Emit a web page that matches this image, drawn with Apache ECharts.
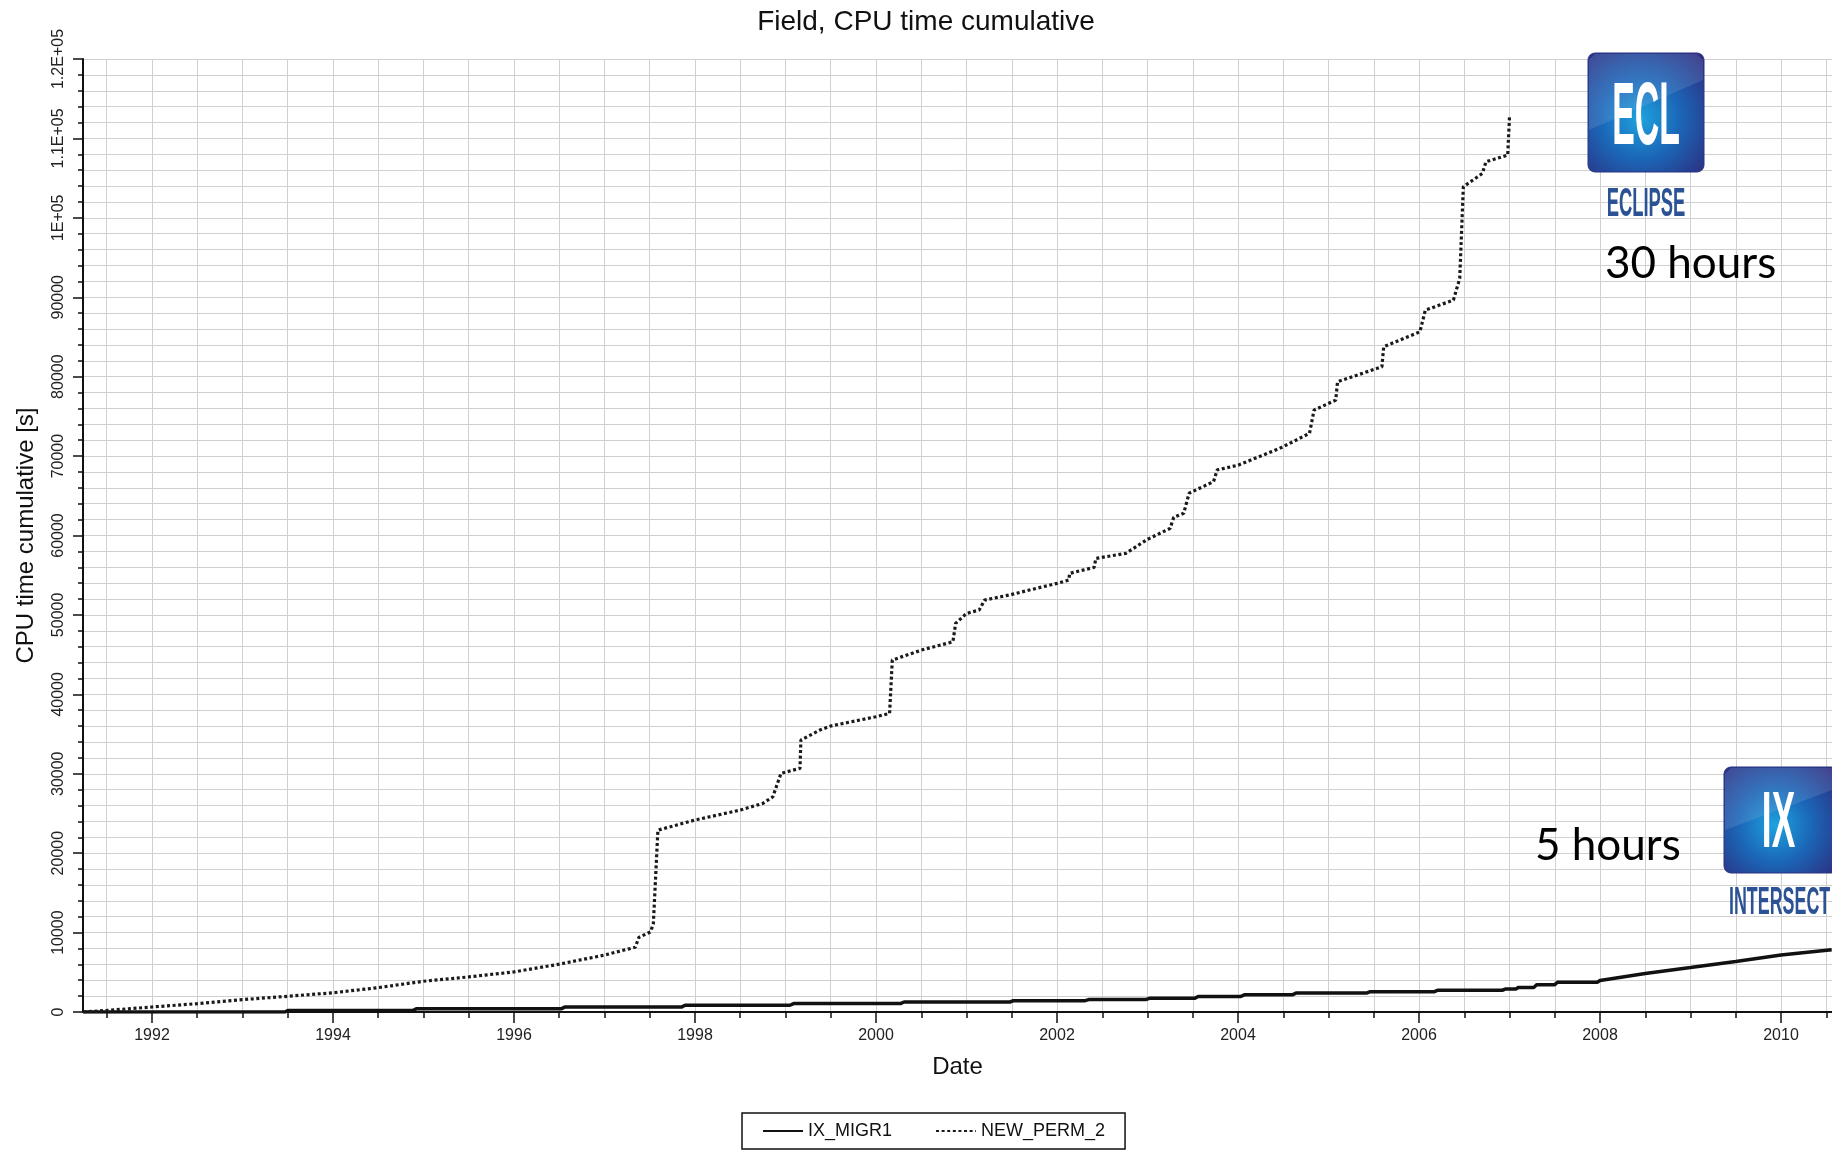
<!DOCTYPE html>
<html><head><meta charset="utf-8">
<script src="https://cdn.jsdelivr.net/npm/echarts@6/dist/echarts.min.js"></script>
<style>html,body{margin:0;padding:0;background:#fff}#c{width:1832px;height:1152px}</style>
</head><body><div id="c"></div>
<script>
// ---- data (decimal years, seconds) ----
const ixYears = [1991.24, 1993.47, 1993.5, 1994.88, 1994.92, 1996.52, 1996.56, 1997.85, 1997.89, 1999.05, 1999.09, 2000.27, 2000.31, 2001.48, 2001.52, 2002.31, 2002.35, 2002.98, 2003.02, 2003.52, 2003.56, 2004.03, 2004.07, 2004.6, 2004.64, 2005.42, 2005.46, 2006.17, 2006.21, 2006.92, 2006.96, 2007.07, 2007.1, 2007.27, 2007.3, 2007.5, 2007.53, 2007.97, 2008.0, 2008.5, 2009.0, 2009.5, 2010.0, 2010.56];
const ixValues = [0, 0, 180, 180, 400, 400, 620, 620, 850, 850, 1060, 1060, 1260, 1260, 1430, 1430, 1560, 1560, 1720, 1720, 1950, 1950, 2160, 2160, 2380, 2380, 2560, 2560, 2740, 2740, 2900, 2900, 3100, 3100, 3440, 3440, 3740, 3740, 3960, 4860, 5590, 6370, 7180, 7830];

const permYears = [1991.24, 1991.5, 1992.0, 1992.5, 1993.0, 1993.5, 1994.0, 1994.5, 1995.0, 1995.5, 1996.0, 1996.5, 1997.0, 1997.34, 1997.38, 1997.51, 1997.54, 1997.59, 1998.0, 1998.5, 1998.75, 1998.86, 1998.95, 1999.16, 1999.17, 1999.38, 1999.5, 2000.0, 2000.15, 2000.18, 2000.5, 2000.85, 2000.88, 2001.0, 2001.14, 2001.2, 2001.5, 2001.77, 2002.0, 2002.13, 2002.14, 2002.41, 2002.43, 2002.76, 2003.0, 2003.25, 2003.29, 2003.4, 2003.46, 2003.73, 2003.77, 2004.0, 2004.46, 2004.79, 2004.84, 2005.08, 2005.1, 2005.59, 2005.61, 2006.01, 2006.07, 2006.38, 2006.45, 2006.49, 2006.7, 2006.74, 2006.98, 2007.0];
const permValues = [0, 200, 630, 1050, 1560, 1980, 2420, 3070, 3870, 4420, 5050, 6020, 7170, 8150, 9400, 10100, 11160, 22900, 24170, 25430, 26270, 27100, 30050, 30680, 34240, 35500, 36010, 37180, 37600, 44310, 45570, 46620, 48940, 50190, 50610, 51870, 52580, 53340, 53970, 54390, 55230, 55990, 57120, 57750, 59520, 60900, 62290, 62800, 65320, 66790, 68260, 68850, 70970, 72860, 75790, 77050, 79360, 81250, 83770, 85650, 88380, 89640, 92370, 103910, 105590, 107060, 107900, 112720];

const xLabelYears = [1992, 1994, 1996, 1998, 2000, 2002, 2004, 2006, 2008, 2010];
const xTickYears = [1991.5, 1992, 1992.5, 1993, 1993.5, 1994, 1994.5, 1995, 1995.5, 1996, 1996.5, 1997, 1997.5, 1998, 1998.5, 1999, 1999.5, 2000, 2000.5, 2001, 2001.5, 2002, 2002.5, 2003, 2003.5, 2004, 2004.5, 2005, 2005.5, 2006, 2006.5, 2007, 2007.5, 2008, 2008.5, 2009, 2009.5, 2010, 2010.5];
const yBigLabels = {100000: '1E+05', 110000: '1.1E+05', 120000: '1.2E+05'};
const seriesNames = ['IX_MIGR1', 'NEW_PERM_2'];

const X_MIN = 1991.2376, X_MAX = 2010.5635;
const FONT = '"Liberation Sans", Arial, sans-serif';
const GRID = '#d0d0d0';
const INK = '#111';

const chart = echarts.init(document.getElementById('c'));

const logoFill = {
  type: 'radial', x: 0.45, y: 0.55, r: 0.75,
  colorStops: [
    {offset: 0, color: '#1ea3de'},
    {offset: 0.45, color: '#1b67b8'},
    {offset: 1, color: '#2e2a7c'}
  ]
};

chart.setOption({
  animation: false,
  backgroundColor: '#fff',
  title: {
    text: 'Field, CPU time cumulative',
    left: 921, top: 3, textAlign: 'center',
    textStyle: {fontFamily: FONT, fontSize: 28, fontWeight: 'normal', color: INK}
  },
  grid: {left: 83, right: 0, top: 59, bottom: 140, containLabel: false},
  legend: {
    left: 742, top: 1113,
    padding: [9, 20, 9, 20], itemGap: 43, itemWidth: 40, itemHeight: 14,
    borderColor: INK, borderWidth: 1.5,
    itemStyle: {opacity: 0, color: 'rgba(0,0,0,0)', borderWidth: 0},
    textStyle: {fontFamily: FONT, fontSize: 18, color: INK},
    data: seriesNames
  },
  xAxis: [{
    type: 'value', min: X_MIN, max: X_MAX,
    axisLine: {show: true, onZero: false, lineStyle: {color: INK, width: 2}},
    axisTick: {show: true, customValues: xTickYears, length: 6, lineStyle: {color: INK, width: 1.5}},
    axisLabel: {customValues: xLabelYears, formatter: v => String(Math.round(v)),
      fontFamily: FONT, fontSize: 16, color: '#222', margin: 16},
    splitLine: {show: true, lineStyle: {color: GRID, width: 1}},
    name: 'Date', nameLocation: 'middle', nameGap: 43,
    nameTextStyle: {fontFamily: FONT, fontSize: 24, color: INK}
  }, {
    type: 'value', min: X_MIN, max: X_MAX, position: 'bottom',
    axisLine: {show: false},
    axisTick: {show: true, customValues: xLabelYears, length: 11, lineStyle: {color: INK, width: 1.5}},
    axisLabel: {show: false},
    splitLine: {show: false}
  }],
  yAxis: {
    type: 'value', min: 0, max: 120000, interval: 10000,
    axisLine: {show: true, lineStyle: {color: INK, width: 2}},
    axisTick: {show: true, length: 10, lineStyle: {color: INK, width: 1.5}},
    minorTick: {show: true, splitNumber: 5, length: 5, lineStyle: {color: INK, width: 1.5}},
    splitLine: {show: true, lineStyle: {color: GRID, width: 1}},
    minorSplitLine: {show: true, lineStyle: {color: GRID, width: 1}},
    axisLabel: {rotate: 90, margin: 16, fontFamily: FONT, fontSize: 16, color: '#222',
      formatter: v => yBigLabels[v] || String(v)},
    name: 'CPU time cumulative [s]', nameLocation: 'middle', nameRotate: 90, nameGap: 45,
    nameTextStyle: {fontFamily: FONT, fontSize: 24, color: INK}
  },
  series: [{
    name: seriesNames[0], type: 'line', xAxisIndex: 0,
    data: ixYears.map((y, i) => [y, ixValues[i]]),
    symbol: 'none', showSymbol: false, z: 3,
    lineStyle: {color: INK, width: 3.5}, itemStyle: {color: INK}
  }, {
    name: seriesNames[1], type: 'line', xAxisIndex: 0,
    data: permYears.map((y, i) => [y, permValues[i]]),
    symbol: 'none', showSymbol: false, z: 3,
    lineStyle: {color: '#1a1a1a', width: 3.2, type: [3, 2.6]}, itemStyle: {color: '#1a1a1a'}
  }],
  graphic: [
    // ECLIPSE logo
    {type: 'rect', z: 100, shape: {x: 1588, y: 53, width: 116, height: 119, r: 7},
      style: {fill: logoFill, stroke: '#2b3580', lineWidth: 1}},
    {type: 'polygon', z: 101, shape: {points: [[1589, 60], [1595, 54], [1697, 54], [1703, 60], [1703, 80], [1589, 130]]},
      style: {fill: 'rgba(180,200,235,0.16)'}},
    {type: 'text', z: 102, x: 1646, y: 119, scaleX: 0.38,
      style: {text: 'ECL', fill: '#fff', font: 'bold 89px "Liberation Sans"', textAlign: 'center', textVerticalAlign: 'middle'}},
    {type: 'text', z: 102, x: 1646, y: 204.5, scaleX: 0.46,
      style: {text: 'ECLIPSE', fill: '#2a5294', font: 'bold 40px "Liberation Sans"', textAlign: 'center', textVerticalAlign: 'middle'}},
    {type: 'text', z: 102, x: 1605, y: 264,
      style: {text: '30 hours', fill: '#000', font: '44px Lato', textAlign: 'left', textVerticalAlign: 'middle'}},
    // INTERSECT logo
    {type: 'rect', z: 100, shape: {x: 1724, y: 767, width: 114, height: 106, r: 7},
      style: {fill: logoFill, stroke: '#2b3580', lineWidth: 1}},
    {type: 'polygon', z: 101, shape: {points: [[1725, 774], [1731, 768], [1832, 768], [1832, 790], [1725, 830]]},
      style: {fill: 'rgba(180,200,235,0.16)'}},
    {type: 'text', z: 102, x: 1778.5, y: 825, scaleX: 0.44,
      style: {text: 'IX', fill: '#fff', font: 'bold 80px "Liberation Sans"', textAlign: 'center', textVerticalAlign: 'middle'}},
    {type: 'text', z: 102, x: 1729, y: 903.3, scaleX: 0.47,
      style: {text: 'INTERSECT', fill: '#2a5294', font: 'bold 38px "Liberation Sans"', textAlign: 'left', textVerticalAlign: 'middle'}},
    {type: 'text', z: 102, x: 1535, y: 845.5,
      style: {text: '5 hours', fill: '#000', font: '44px Lato', textAlign: 'left', textVerticalAlign: 'middle'}}
  ]
});
</script>
</body></html>
